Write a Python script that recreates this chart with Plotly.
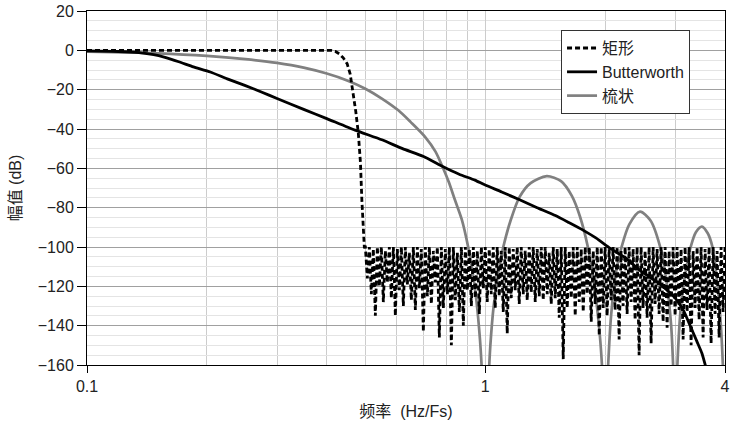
import plotly.graph_objects as go

# ---------------- data ----------------
# Rectangular filter: passband + transition
rect_pass_f = [0.1, 0.2, 0.3, 0.41, 0.42, 0.43, 0.44, 0.45, 0.458, 0.466, 0.473, 0.48, 0.486, 0.49, 0.494, 0.497]
rect_pass_db = [0, 0, 0, 0, -0.5, -1.8, -3.8, -6.8, -12, -22, -31, -42, -57, -76, -90, -100]

# Rectangular filter: stop band (noise floor)
rect_stop_f = [
    0.5000, 0.5058, 0.5117, 0.5176, 0.5236, 0.5297, 0.5359, 0.5421, 0.5484, 0.5548,
    0.5613, 0.5678, 0.5744, 0.5811, 0.5878, 0.5947, 0.6016, 0.6086, 0.6157, 0.6228,
    0.6301, 0.6374, 0.6448, 0.6523, 0.6599, 0.6676, 0.6753, 0.6832, 0.6911, 0.6992,
    0.7073, 0.7155, 0.7239, 0.7323, 0.7408, 0.7494, 0.7581, 0.7669, 0.7759, 0.7849,
    0.7940, 0.8033, 0.8126, 0.8221, 0.8316, 0.8413, 0.8511, 0.8610, 0.8710, 0.8811,
    0.8914, 0.9017, 0.9122, 0.9228, 0.9336, 0.9444, 0.9554, 0.9665, 0.9778, 0.9891,
    1.0000, 1.0116, 1.0234, 1.0353, 1.0473, 1.0595, 1.0718, 1.0843, 1.0969, 1.1097,
    1.1226, 1.1356, 1.1488, 1.1622, 1.1757, 1.1894, 1.2032, 1.2172, 1.2314, 1.2457,
    1.2602, 1.2748, 1.2896, 1.3046, 1.3198, 1.3352, 1.3507, 1.3664, 1.3823, 1.3984,
    1.4146, 1.4311, 1.4477, 1.4646, 1.4816, 1.4988, 1.5163, 1.5339, 1.5517, 1.5698,
    1.5880, 1.6065, 1.6252, 1.6441, 1.6632, 1.6825, 1.7021, 1.7219, 1.7419, 1.7622,
    1.7827, 1.8034, 1.8244, 1.8456, 1.8671, 1.8888, 1.9107, 1.9330, 1.9554, 1.9782,
    2.0000, 2.0233, 2.0468, 2.0706, 2.0946, 2.1190, 2.1436, 2.1686, 2.1938, 2.2194,
    2.2452, 2.2712, 2.2976, 2.3244, 2.3514, 2.3788, 2.4064, 2.4344, 2.4628, 2.4914,
    2.5204, 2.5496, 2.5792, 2.6092, 2.6396, 2.6704, 2.7014, 2.7328, 2.7646, 2.7968,
    2.8292, 2.8622, 2.8954, 2.9292, 2.9632, 2.9976, 3.0326, 3.0678, 3.1034, 3.1396,
    3.1760, 3.2130, 3.2504, 3.2882, 3.3264, 3.3650, 3.4042, 3.4438, 3.4838, 3.5244,
    3.5654, 3.6068, 3.6488, 3.6912, 3.7342, 3.7776, 3.8214, 3.8660, 3.9108, 3.9564,
    4.0000,
]
rect_stop_db = [
    -100, -116, -100, -124, -101, -135, -100, -120, -100, -128,
    -102, -118, -100, -126, -100, -135, -101, -122, -100, -130,
    -100, -119, -103, -127, -100, -132, -100, -121, -101, -143,
    -100, -125, -100, -129, -102, -118, -100, -146, -100, -131,
    -101, -124, -100, -150, -100, -127, -103, -133, -100, -140,
    -100, -122, -101, -130, -100, -126, -102, -134, -100, -121,
    -100, -128, -101, -124, -100, -131, -100, -125, -102, -133,
    -100, -144, -100, -126, -101, -122, -100, -129, -100, -124,
    -102, -127, -100, -123, -100, -128, -101, -125, -100, -127,
    -100, -124, -103, -129, -100, -126, -101, -136, -100, -157,
    -100, -131, -102, -126, -100, -135, -100, -128, -101, -133,
    -100, -124, -100, -138, -102, -129, -100, -145, -100, -131,
    -100, -135, -101, -127, -100, -132, -100, -147, -102, -130,
    -100, -134, -100, -128, -101, -137, -100, -155, -100, -131,
    -102, -136, -100, -149, -100, -129, -101, -134, -100, -138,
    -100, -141, -102, -130, -100, -135, -100, -132, -101, -147,
    -100, -133, -100, -150, -102, -131, -100, -137, -100, -146,
    -101, -132, -100, -149, -100, -134, -102, -146, -100, -133,
    -100,
]

# Butterworth
butter_f = [0.1, 0.12, 0.135, 0.147, 0.157, 0.17, 0.185, 0.204, 0.225, 0.249, 0.275, 0.3,
            0.35, 0.4, 0.471, 0.55, 0.62, 0.7, 0.784, 0.86, 0.942, 1.0, 1.1, 1.22, 1.35,
            1.5, 1.62, 1.76, 1.9, 2.06, 2.25, 2.45, 2.75, 3.0, 3.15, 3.27, 3.4, 3.5, 3.58]
butter_db = [-0.3, -0.6, -1.2, -2.2, -3.6, -5.8, -8.4, -11, -14.5, -17.8, -21.3, -24.5,
             -30, -34.7, -40.6, -45.5, -50, -54, -59.2, -63, -66, -68.5, -72, -76, -80,
             -84, -87.5, -91.4, -95.5, -100.7, -105.5, -112, -119, -126, -132.5, -140, -148, -154, -161]

# Comb
comb_f = [0.1, 0.15, 0.2, 0.25, 0.3, 0.35, 0.4, 0.45, 0.5, 0.55, 0.605, 0.65, 0.706, 0.75,
          0.784, 0.81, 0.839, 0.873, 0.906, 0.93, 0.95, 0.97, 0.985, 1.0,
          1.015, 1.03, 1.05, 1.08, 1.11, 1.16, 1.22, 1.3, 1.427, 1.55, 1.65, 1.73, 1.81,
          1.88, 1.94, 1.97, 2.0,
          2.03, 2.07, 2.13, 2.2, 2.3, 2.447, 2.6, 2.75, 2.85, 2.93, 2.975, 3.0,
          3.03, 3.1, 3.19, 3.28, 3.38, 3.5, 3.62, 3.72, 3.82, 3.9, 3.96, 4.0]
comb_db = [-0.7, -1.5, -2.8, -4.5, -6.4, -8.8, -11.8, -15.3, -19.5, -24.5, -30.5, -36.5, -44, -51.5,
           -60, -67, -76, -86, -100, -113, -127, -147, -170, -200,
           -175, -150, -130, -112, -100, -86, -74.5, -67.5, -64, -66.5, -74, -84.6, -100,
           -120, -145, -165, -200,
           -165, -135, -113, -100, -88.5, -82, -86.5, -100, -117, -140, -170, -200,
           -165, -130, -112, -100, -92.5, -89.6, -93, -100, -117, -138, -165, -200]

x_tick_vals = [0.1, 1, 4]
x_tick_text = ["0.1", "1", "4"]
x_minor_vals = [0.2, 0.3, 0.4, 0.5, 0.6, 0.7, 0.8, 0.9, 2, 3]

FONT = "Liberation Sans, Arial, Noto Sans CJK SC, sans-serif"

fig = go.Figure()

fig.add_trace(go.Scatter(
    x=comb_f, y=comb_db, mode="lines", name="梳状", legendrank=3,
    line=dict(color="#808080", width=2.7, shape="spline", smoothing=0.8),
))
fig.add_trace(go.Scatter(
    x=rect_pass_f + rect_stop_f, y=rect_pass_db + rect_stop_db, mode="lines", name="矩形",
    legendrank=1, line=dict(color="black", width=2.8, dash="5px,3px"),
))
fig.add_trace(go.Scatter(
    x=butter_f, y=butter_db, mode="lines", name="Butterworth", legendrank=2,
    line=dict(color="black", width=2.8, shape="spline", smoothing=0.5),
))

fig.update_layout(
    width=730, height=424,
    margin=dict(l=87, r=5, t=11, b=59),
    paper_bgcolor="white", plot_bgcolor="white",
    font=dict(family=FONT, size=16, color="#222"),
    showlegend=True,
    legend=dict(
        x=0.743, y=0.946, xanchor="left", yanchor="top",
        bgcolor="white", bordercolor="#333", borderwidth=1,
        font=dict(size=16, family=FONT, color="#222"),
        tracegroupgap=0,
    ),
    xaxis=dict(
        type="log", range=[-1, 0.60206], automargin=False,
        tickvals=x_tick_vals, ticktext=x_tick_text,
        ticks="outside", ticklen=7, tickcolor="black",
        showgrid=True, gridcolor="#cccccc", gridwidth=1,
        minor=dict(tickvals=x_minor_vals, showgrid=True, gridcolor="#cccccc", gridwidth=1, ticks=""),
        showline=True, linecolor="black", linewidth=1, mirror=True,
        zeroline=False,
        title=dict(text="频率\u00a0\u00a0(Hz/Fs)", font=dict(size=16), standoff=11),
        tickfont=dict(size=16),
    ),
    yaxis=dict(
        range=[-160, 20], dtick=20, tick0=0, automargin=False,
        ticks="outside", ticklen=9, tickcolor="black",
        showgrid=True, gridcolor="#a0a0a0", gridwidth=1,
        minor=dict(dtick=5, showgrid=True, gridcolor="#e4e4e4", gridwidth=1, ticks=""),
        showline=True, linecolor="black", linewidth=1, mirror=True,
        zeroline=False,
        title=dict(text="幅值 (dB)", font=dict(size=16), standoff=12),
        tickfont=dict(size=16),
    ),
)

fig.write_html(
    "out.html",
    config={"displayModeBar": False},
    post_script="document.body.style.margin='0';document.body.style.padding='0';",
)
